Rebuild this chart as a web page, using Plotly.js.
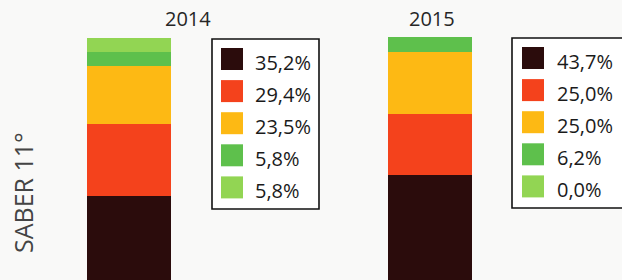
<!DOCTYPE html>
<html>
<head>
<meta charset="utf-8">
<script src="https://cdn.plot.ly/plotly-3.0.1.min.js"></script>
<style>
html,body{margin:0;padding:0;background:#f9f9f8;}
#chart{width:622px;height:280px;}
</style>
</head>
<body>
<div id="chart"></div>
<script>
// ---- data ----
var years = ['2014', '2015'];
var values2014 = [35.2, 29.4, 23.5, 5.8, 5.8];
var values2015 = [43.7, 25.0, 25.0, 6.2, 0.0];
var segmentColors = ['#2b0c0c', '#f4421c', '#fdb914', '#5ec04c', '#92d553'];
var sideTitle = 'SABER 11°';

function fmt(v) { return v.toFixed(1).replace('.', ',') + '%'; }

var W = 622, H = 280;
function px(x) { return x / W; }
function py(y) { return 1 - y / H; }

var traces = segmentColors.map(function (c, i) {
  return {
    type: 'bar',
    x: years,
    y: [values2014[i], values2015[i]],
    width: 0.279,
    marker: { color: c, line: { width: 0 } },
    showlegend: false,
    hoverinfo: 'skip'
  };
});

var shapes = [];
var annotations = [];

// legend boxes (layout positions)
var legends = [
  { vals: values2014, box: [212, 39, 319, 209], mx: 221, tx: 253 },
  { vals: values2015, box: [512, 38, 624, 208], mx: 522, tx: 555 }
];
legends.forEach(function (lg) {
  shapes.push({
    type: 'rect', xref: 'paper', yref: 'paper',
    x0: px(lg.box[0]), x1: px(lg.box[2]), y0: py(lg.box[3]), y1: py(lg.box[1]),
    fillcolor: '#ffffff', line: { color: '#111111', width: 1.6 }, layer: 'above'
  });
  lg.vals.forEach(function (v, i) {
    var cy = lg.box[1] + 20 + i * 32.1;
    shapes.push({
      type: 'rect', xref: 'paper', yref: 'paper',
      x0: px(lg.mx), x1: px(lg.mx + 22), y0: py(cy + 11), y1: py(cy - 11),
      fillcolor: segmentColors[i], line: { width: 0 }, layer: 'above'
    });
    annotations.push({
      xref: 'paper', yref: 'paper', x: px(lg.tx), y: py(cy + 3.5),
      xanchor: 'left', yanchor: 'middle', showarrow: false,
      text: fmt(v), font: { family: 'Open Sans, sans-serif', size: 20, color: '#1a1a1a' }
    });
  });
});

// year titles
annotations.push({
  xref: 'paper', yref: 'paper', x: px(188), y: py(19), xanchor: 'center', yanchor: 'middle',
  showarrow: false, text: years[0], font: { family: 'Open Sans, sans-serif', size: 20, color: '#262626' }
});
annotations.push({
  xref: 'paper', yref: 'paper', x: px(432), y: py(19), xanchor: 'center', yanchor: 'middle',
  showarrow: false, text: years[1], font: { family: 'Open Sans, sans-serif', size: 20, color: '#262626' }
});
// vertical side title
annotations.push({
  xref: 'paper', yref: 'paper', x: px(23), y: py(193), xanchor: 'center', yanchor: 'middle',
  showarrow: false, textangle: -90, text: sideTitle,
  font: { family: 'Open Sans, sans-serif', size: 25, color: '#444444' }
});

var layout = {
  width: W, height: H,
  margin: { l: 0, r: 0, t: 0, b: 0 },
  paper_bgcolor: '#f9f9f8',
  plot_bgcolor: 'rgba(0,0,0,0)',
  barmode: 'stack',
  xaxis: {
    type: 'category', categoryorder: 'array', categoryarray: years,
    range: [-0.4286, 1.638], visible: false, fixedrange: true
  },
  yaxis: { range: [0.8, 115.09], visible: false, fixedrange: true },
  shapes: shapes,
  annotations: annotations,
  showlegend: false
};

Plotly.newPlot('chart', traces, layout, { displayModeBar: false, staticPlot: true });
</script>
</body>
</html>
